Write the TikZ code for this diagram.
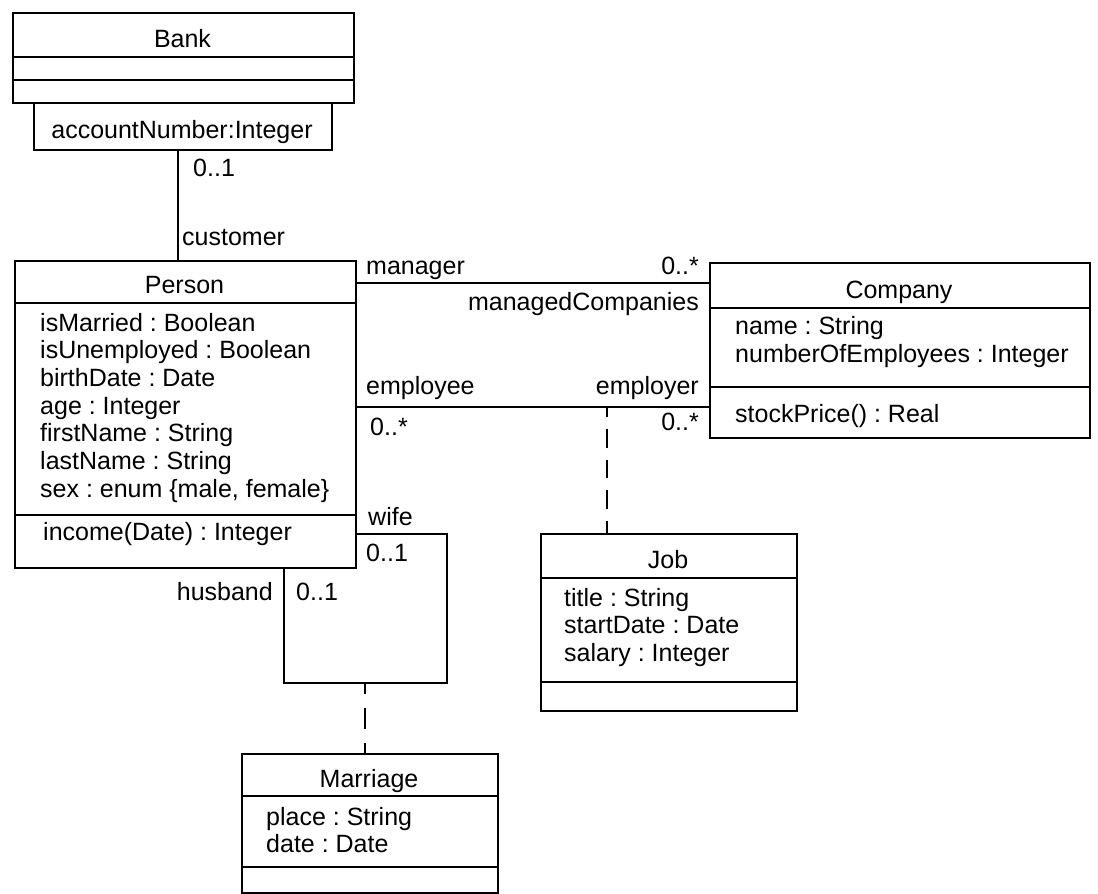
\documentclass[tikz,border=0pt]{standalone}
\usepackage{fontspec}
\setmainfont{Liberation Sans}
\usetikzlibrary{calc}
\newcommand\umlfont{\fontsize{25}{28}\selectfont}
\frenchspacing
\begin{document}
\begin{tikzpicture}[x=1pt,y=-1pt,
  classbox/.style={draw, line width=1.8pt, inner sep=0pt, anchor=north west},
  sepline/.style={line width=1.8pt},
  assoc/.style={line width=1.4pt},
  link/.style={line width=2pt},
  txt/.style={inner sep=0pt, font=\umlfont},
  lbl/.style={txt, anchor=base west},
  rlbl/.style={txt, anchor=base east},
  clbl/.style={txt, anchor=base}]
\useasboundingbox (0,0) rectangle (1098,894);

% Bank
\node[classbox, minimum width=341pt, minimum height=90pt] (bank) at (12,12) {};
\draw[sepline] ($(bank.north west)+(0,45)$) -- ($(bank.north east)+(0,45)$);
\draw[sepline] ($(bank.north west)+(0,68)$) -- ($(bank.north east)+(0,68)$);
\node[clbl] (bankname) at (182.5,47) {Bank};
\node[classbox, minimum width=298pt, minimum height=47pt] (bankq) at (33,102) {};
\node[clbl] (bankqtxt) at (182,138) {accountNumber:Integer};

% Person
\node[classbox, minimum width=341pt, minimum height=307pt] (person) at (14,260) {};
\draw[sepline] ($(person.north west)+(0,43)$) -- ($(person.north east)+(0,43)$);
\draw[sepline] ($(person.north west)+(0,255)$) -- ($(person.north east)+(0,255)$);
\node[clbl] (personname) at (184.5,293) {Person};
\node[lbl] (pa1) at (40,331) {isMarried : Boolean};
\node[lbl] (pa2) at (40,358.7) {isUnemployed : Boolean};
\node[lbl] (pa3) at (40,386.4) {birthDate : Date};
\node[lbl] (pa4) at (40,414.1) {age : Integer};
\node[lbl] (pa5) at (40,441.8) {firstName : String};
\node[lbl] (pa6) at (40,469.5) {lastName : String};
\node[lbl] (pa7) at (40,497.2) {sex : enum \{male, female\}};
\node[lbl] (po1) at (43,540) {income(Date) : Integer};

% Company
\node[classbox, minimum width=380pt, minimum height=175pt] (company) at (709,262) {};
\draw[sepline] ($(company.north west)+(0,46)$) -- ($(company.north east)+(0,46)$);
\draw[sepline] ($(company.north west)+(0,125)$) -- ($(company.north east)+(0,125)$);
\node[clbl] (companyname) at (899,298) {Company};
\node[lbl] (ca1) at (735,334) {name : String};
\node[lbl] (ca2) at (735,362) {numberOfEmployees : Integer};
\node[lbl] (co1) at (735,422) {stockPrice() : Real};

% Job
\node[classbox, minimum width=256pt, minimum height=177pt] (job) at (540,533) {};
\draw[sepline] ($(job.north west)+(0,45)$) -- ($(job.north east)+(0,45)$);
\draw[sepline] ($(job.north west)+(0,149)$) -- ($(job.north east)+(0,149)$);
\node[clbl] (jobname) at (668,568) {Job};
\node[lbl] (ja1) at (564,606) {title : String};
\node[lbl] (ja2) at (564,633) {startDate : Date};
\node[lbl] (ja3) at (564,661) {salary : Integer};

% Marriage
\node[classbox, minimum width=256pt, minimum height=139pt] (marriage) at (241,753) {};
\draw[sepline] ($(marriage.north west)+(0,43)$) -- ($(marriage.north east)+(0,43)$);
\draw[sepline] ($(marriage.north west)+(0,114)$) -- ($(marriage.north east)+(0,114)$);
\node[clbl] (marriagename) at (369,787) {Marriage};
\node[lbl] (ma1) at (266,825) {place : String};
\node[lbl] (ma2) at (266,852) {date : Date};

% Associations
\coordinate (bx) at (178,0);
\draw[assoc] (bankq.south -| bx) -- (person.north -| bx);
\coordinate (my) at (0,283);
\draw[assoc] (person.east |- my) -- (company.west |- my);
\coordinate (ey) at (0,407);
\draw[assoc] (person.east |- ey) -- (company.west |- ey);
\coordinate (jx) at (607,0);
\draw[link, dash pattern=on 18.5pt off 12pt, dash phase=8.5pt] (jx |- ey) -- (job.north -| jx);
\coordinate (w1) at (447,534);
\coordinate (w2) at (447,683);
\coordinate (w3) at (284,683);
\draw[assoc, line width=1.8pt] (person.east |- w1) -- (w1) -- (w2) -- (w3) -- (person.south -| w3);
\coordinate (mx) at (365,0);
\draw[link, dash pattern=on 21pt off 14pt, dash phase=10pt] (w3 -| mx) -- (marriage.north -| mx);

% Role names and multiplicities
\node[lbl] (m01bank) at (193,176) {0..1};
\node[lbl] (rcust) at (182,245) {customer};
\node[lbl] (rmgr) at (366,274) {manager};
\node[rlbl] (mmgr) at (699,274) {0..*};
\node[rlbl] (rmc) at (699,310) {managedCompanies};
\node[lbl] (remp) at (366,394) {employee};
\node[rlbl] (remr) at (699,394) {employer};
\node[lbl] (memp) at (370,435) {0..*};
\node[rlbl] (memr) at (699,430) {0..*};
\node[lbl] (rwife) at (368,525) {wife};
\node[lbl] (mwife) at (366,561) {0..1};
\node[rlbl] (rhus) at (273,600) {husband};
\node[lbl] (mhus) at (296,600) {0..1};
\end{tikzpicture}
\end{document}
